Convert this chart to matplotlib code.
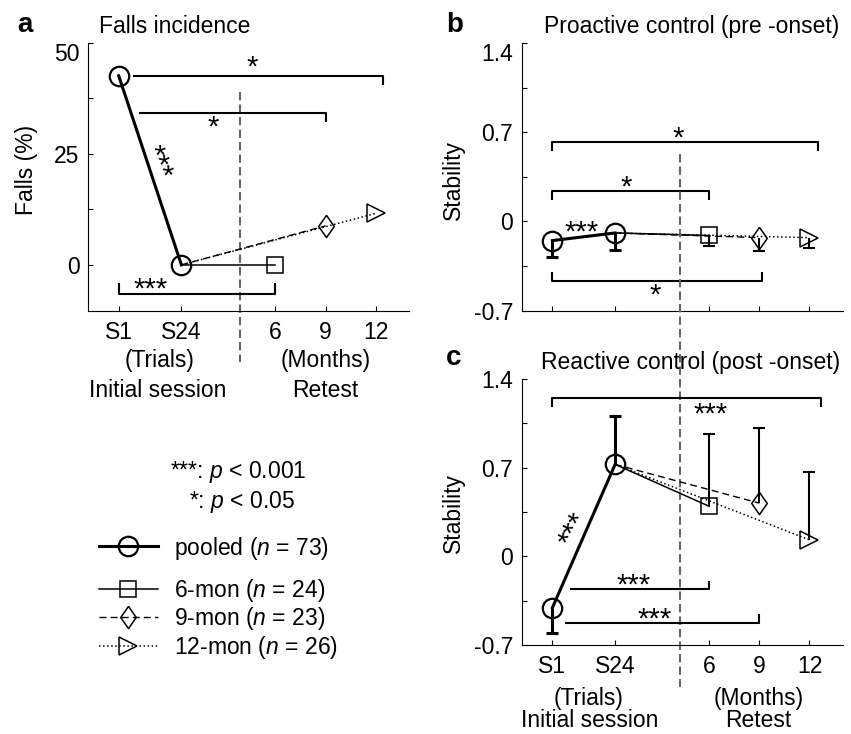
import numpy as np
import matplotlib
matplotlib.use("Agg")
import matplotlib.pyplot as plt
from matplotlib.lines import Line2D

plt.rcParams['font.family'] = ['Liberation Sans', 'DejaVu Sans']
plt.rcParams['mathtext.fontset'] = 'custom'
plt.rcParams['mathtext.rm'] = 'Liberation Sans'
plt.rcParams['mathtext.it'] = 'Liberation Sans:italic'

W, H = 851, 734
FS = 16.5

# session positions on the x axis: S1, S24 (trials), 6, 9, 12 (months)
x_pos = [1.0, 2.0, 3.5, 4.3, 5.1]
x_labels = ['S1', 'S24', '6', '9', '12']

groups = ['pooled', '6-mon', '9-mon', '12-mon']
group_n = [73, 24, 23, 26]

# a: falls incidence (%)
falls_pooled = [42.6, 0.0]
falls_retest = [0.0, 8.8, 11.6]

# b: proactive stability (mean, one sided SD below)
pro_pooled = [-0.15, -0.09]
pro_pooled_sd = [-0.125, -0.13]
pro_retest = [-0.11, -0.127, -0.127]
pro_retest_sd = [-0.085, -0.104, -0.085]

# c: reactive stability (mean, one sided SD)
rea_pooled = [-0.405, 0.726]
rea_pooled_sd = [-0.197, 0.38]
rea_retest = [0.395, 0.42, 0.13]
rea_retest_sd = [0.573, 0.595, 0.535]

diamond = [(0, 1), (0.7, 0), (0, -1), (-0.7, 0), (0, 1)]
styles = [
    dict(color='k', ls='-', lw=2.2, marker='o', ms=14, mew=1.6, mfc='none'),
    dict(color='k', ls='-', lw=1.1, marker='s', ms=11, mew=1.1, mfc='none'),
    dict(color='k', ls=(0, (5, 3)), lw=1.0, marker=diamond, ms=16, mew=1.1, mfc='none'),
    dict(color='k', ls=':', lw=1.1, marker='>', ms=13.5, mew=1.1, mfc='none'),
]

fig = plt.figure(figsize=(W / 100, H / 100), dpi=100)


def px_axes(l, t, r, b):
    return fig.add_axes([l / W, 1 - b / H, (r - l) / W, (b - t) / H])


def ftext(px, py, s, **kw):
    fig.text(px / W, 1 - py / H, s, **kw)


def style_axes(ax, ylim, yticks, ylabels, show_x=True):
    for s in ['top', 'right']:
        ax.spines[s].set_visible(False)
    for s in ['left', 'bottom']:
        ax.spines[s].set_linewidth(0.8)
    ax.set_xlim(0.51, 5.63)
    ax.set_ylim(*ylim)
    ax.set_xticks(x_pos)
    ax.set_xticklabels(x_labels if show_x else [])
    ax.set_yticks(yticks)
    ax.set_yticklabels(ylabels)
    ax.tick_params(direction='in', length=3.5, width=0.8, labelsize=FS)
    ax.tick_params(axis='x', pad=7.5)
    ax.tick_params(axis='y', pad=6)


def draw_lines(ax, pooled, retest):
    ax.plot(x_pos[:2], pooled, **styles[0], zorder=4)
    for k in range(3):
        ax.plot([x_pos[1], x_pos[2 + k]], [pooled[1], retest[k]],
                markevery=[1], **styles[k + 1], zorder=3)


def sd_bar(ax, x, y, d, lw):
    ax.plot([x, x], [y, y + d], color='k', lw=lw, solid_capstyle='butt')
    ax.plot([x], [y + d], marker='_', ms=8.5, mew=lw, color='k')


def bracket(ax, x1, x2, y, tick, left=True, right=True):
    xs, ys = [x1, x2], [y, y]
    if left:
        xs, ys = [x1] + xs, [y + tick] + ys
    if right:
        xs, ys = xs + [x2], ys + [y + tick]
    ax.plot(xs, ys, color='k', lw=1.5, solid_capstyle='butt')


def stars(ax, x, y, s, rot=0, fs=21):
    th = np.deg2rad(rot)
    d = 0.44 * fs
    ax.annotate(s, (x, y), xytext=(d * np.sin(th), -d * np.cos(th)),
                textcoords='offset points', ha='center', va='baseline',
                rotation=rot, rotation_mode='anchor', fontsize=fs)


sep_kw = dict(color='0.4', lw=1.5, ls=(0, (4, 2)), clip_on=False)

# ---------------- a ----------------
ax_a = px_axes(88, 43, 409, 311)
style_axes(ax_a, (-10.4, 50), [0, 12.5, 25, 37.5, 50], ['0', '', '25', '', '50'])
ax_a.get_yticklabels()[-1].set_verticalalignment('top')
ax_a.plot([2.94, 2.94], [0.817, -0.19], transform=ax_a.get_xaxis_transform(), **sep_kw)
draw_lines(ax_a, falls_pooled, falls_retest)
bracket(ax_a, 1.23, 5.22, 42.6, -2.1, left=False)
stars(ax_a, 3.13, 45.5, '*')
bracket(ax_a, 1.32, 4.3, 34.2, -2.1, left=False)
stars(ax_a, 2.51, 32.0, '*')
bracket(ax_a, 1.0, 3.5, -6.5, 2.3)
stars(ax_a, 1.51, -4.4, '***')
stars(ax_a, 1.69, 23.5, '***', rot=-68)
ax_a.set_ylabel('Falls (%)', fontsize=FS)
ax_a.yaxis.set_label_coords(-0.157, 0.526)
tr = ax_a.get_xaxis_transform()
ax_a.text(1.65, -0.185, '(Trials)', transform=tr, ha='center', va='center', fontsize=FS)
ax_a.text(1.62, -0.295, 'Initial session', transform=tr, ha='center', va='center', fontsize=FS)
ax_a.text(4.30, -0.185, '(Months)', transform=tr, ha='center', va='center', fontsize=FS)
ax_a.text(4.29, -0.295, 'Retest', transform=tr, ha='center', va='center', fontsize=FS)

stab_ticks = [-0.7, -0.35, 0, 0.35, 0.7, 1.05, 1.4]
stab_labels = ['-0.7', '', '0', '', '0.7', '', '1.4']

# ---------------- b ----------------
ax_b = px_axes(521.7, 43, 842.7, 310.7)
style_axes(ax_b, (-0.7, 1.4), stab_ticks, stab_labels, show_x=False)
ax_b.get_yticklabels()[-1].set_verticalalignment('top')
draw_lines(ax_b, pro_pooled, pro_retest)
for i in range(2):
    sd_bar(ax_b, x_pos[i], pro_pooled[i], pro_pooled_sd[i], 2.2)
for k in range(3):
    sd_bar(ax_b, x_pos[2 + k], pro_retest[k], pro_retest_sd[k], 1.5)
bracket(ax_b, 1.0, 5.24, 0.62, -0.07)
stars(ax_b, 3.0, 0.69, '*')
bracket(ax_b, 1.0, 3.49, 0.24, -0.07)
stars(ax_b, 2.18, 0.30, '*')
bracket(ax_b, 1.0, 4.34, -0.465, 0.065)
stars(ax_b, 2.64, -0.54, '*')
stars(ax_b, 1.47, -0.05, '***')
ax_b.set_ylabel('Stability', fontsize=FS)
ax_b.yaxis.set_label_coords(-0.178, 0.488)

# ---------------- c ----------------
ax_c = px_axes(521.7, 379, 842.7, 645)
style_axes(ax_c, (-0.7, 1.4), stab_ticks, stab_labels)
ax_c.plot([3.03, 3.03], [1.846, -0.158], transform=ax_c.get_xaxis_transform(), **sep_kw)
draw_lines(ax_c, rea_pooled, rea_retest)
for i in range(2):
    sd_bar(ax_c, x_pos[i], rea_pooled[i], rea_pooled_sd[i], 2.2)
for k in range(3):
    sd_bar(ax_c, x_pos[2 + k], rea_retest[k], rea_retest_sd[k], 1.5)
bracket(ax_c, 1.0, 5.29, 1.252, -0.07)
stars(ax_c, 3.52, 1.16, '***')
bracket(ax_c, 1.28, 3.5, -0.26, 0.065, left=False)
stars(ax_c, 2.30, -0.19, '***')
bracket(ax_c, 1.2, 4.3, -0.526, 0.068, left=False)
stars(ax_c, 2.63, -0.46, '***')
stars(ax_c, 1.28, 0.23, '***', rot=62)
ax_c.set_ylabel('Stability', fontsize=FS)
ax_c.yaxis.set_label_coords(-0.178, 0.496)
tr = ax_c.get_xaxis_transform()
ax_c.text(1.58, -0.2, '(Trials)', transform=tr, ha='center', va='center', fontsize=FS)
ax_c.text(1.60, -0.284, 'Initial session', transform=tr, ha='center', va='center', fontsize=FS)
ax_c.text(4.29, -0.2, '(Months)', transform=tr, ha='center', va='center', fontsize=FS)
ax_c.text(4.29, -0.284, 'Retest', transform=tr, ha='center', va='center', fontsize=FS)

# titles and panel letters
ftext(17, 32, 'a', fontsize=20, fontweight='bold', va='baseline')
ftext(99, 33, 'Falls incidence', fontsize=FS, va='baseline')
ftext(446, 32, 'b', fontsize=20, fontweight='bold', va='baseline')
ftext(544, 33, 'Proactive control (pre -onset)', fontsize=FS, va='baseline')
ftext(446, 365, 'c', fontsize=20, fontweight='bold', va='baseline')
ftext(541, 369, 'Reactive control (post -onset)', fontsize=FS, va='baseline')

# significance key
ftext(238.5, 478, '***: $p$ < 0.001', fontsize=FS, ha='center', va='baseline')
ftext(241.5, 508, '*: $p$ < 0.05', fontsize=FS, ha='center', va='baseline')

# legend
handles = [Line2D([], [], **st) for st in styles]
labels = [f'{g} ($n$ = {n})' for g, n in zip(groups, group_n)]
leg_kw = dict(frameon=False, fontsize=FS, handlelength=2.57, handletextpad=0.7,
              borderpad=0, borderaxespad=0, bbox_transform=fig.transFigure)
fig.legend(handles[:1], labels[:1], loc='center left',
           bbox_to_anchor=(99 / W, 1 - 548 / H), **leg_kw)
fig.legend(handles[1:], labels[1:], loc='center left', labelspacing=0.08,
           bbox_to_anchor=(99 / W, 1 - 619 / H), **leg_kw)

fig.savefig('out.png', dpi=100)
